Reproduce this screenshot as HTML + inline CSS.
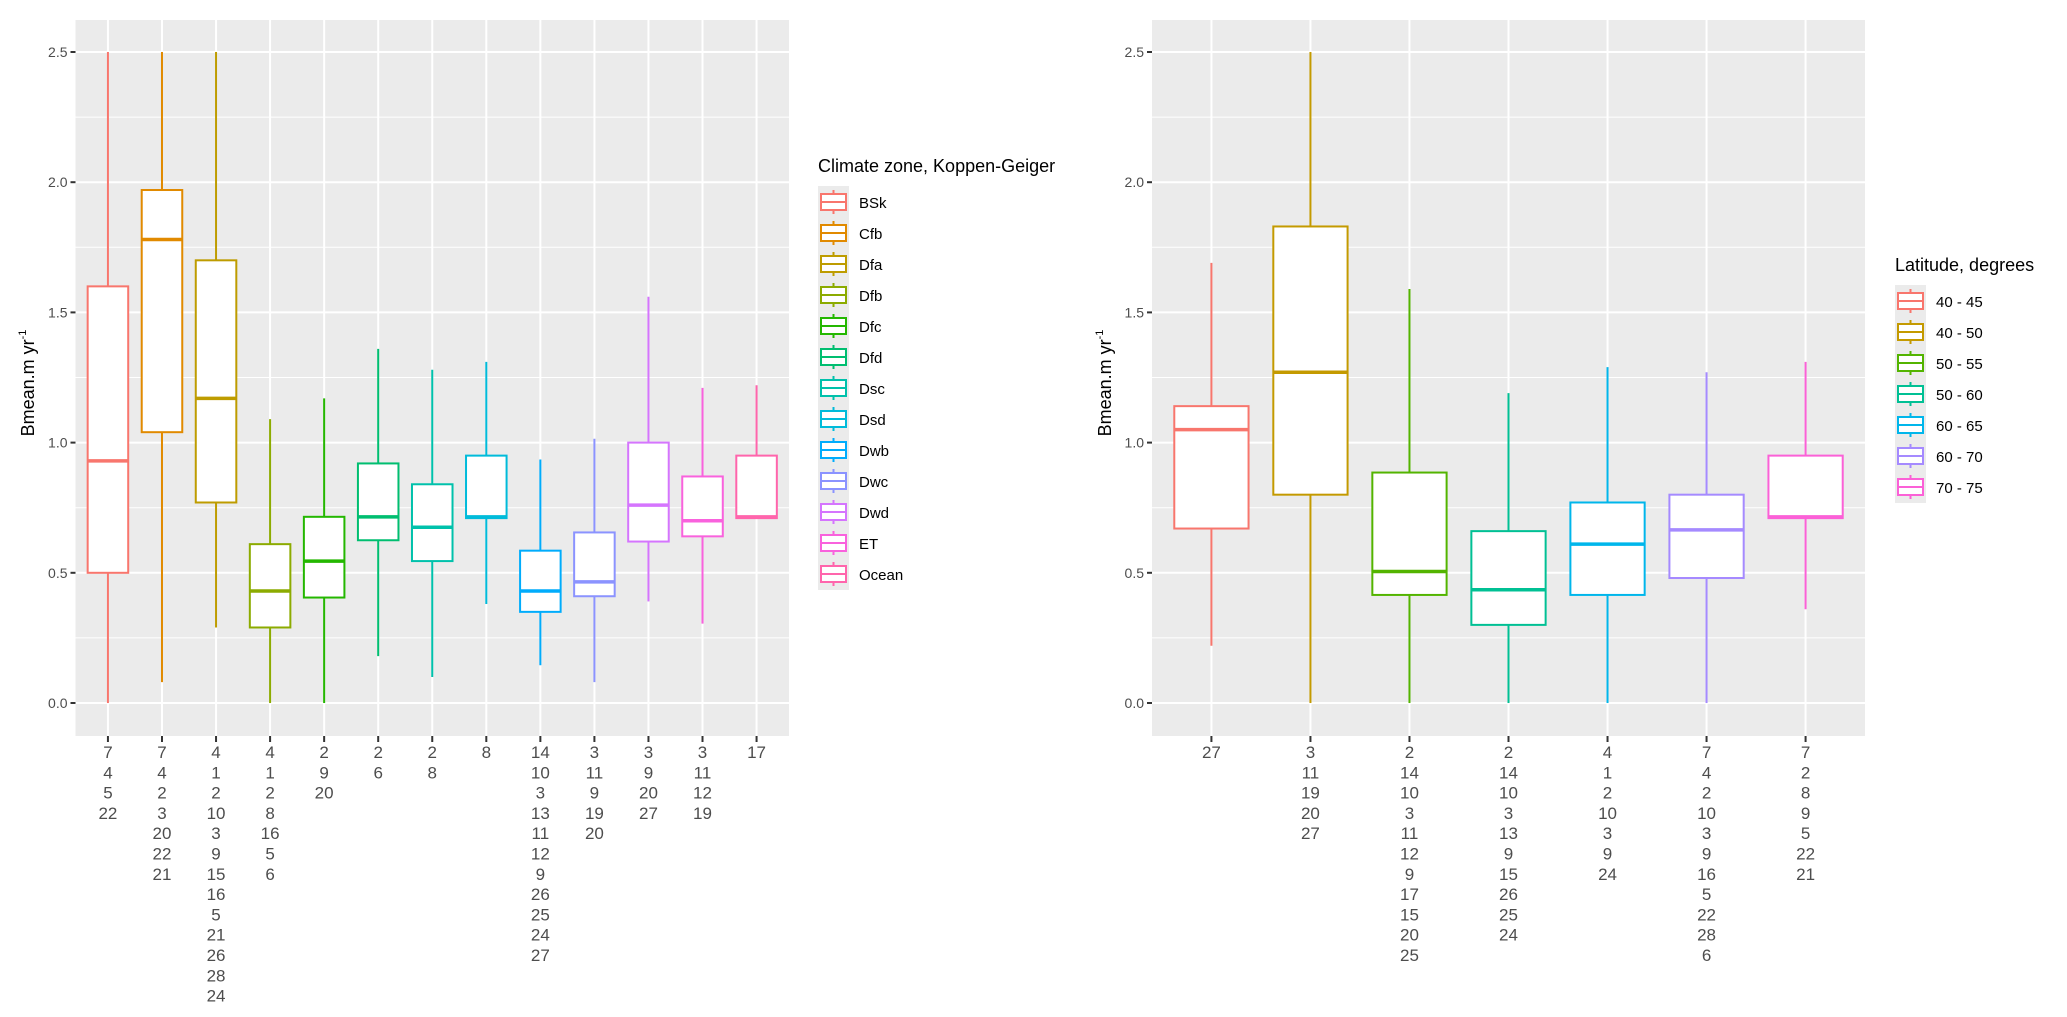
<!DOCTYPE html>
<html><head><meta charset="utf-8"><style>
body{margin:0;background:#fff;width:2067px;height:1012px;overflow:hidden}
text{font-family:"Liberation Sans",Arial,sans-serif}
</style></head><body>
<svg id="svg" width="2067" height="1012" xmlns="http://www.w3.org/2000/svg"></svg>
<script>
// Left chart data
const leftCats=["BSk","Cfb","Dfa","Dfb","Dfc","Dfd","Dsc","Dsd","Dwb","Dwc","Dwd","ET","Ocean"];
const leftLow=[0,0.08,0.29,0,0,0.18,0.10,0.38,0.145,0.08,0.39,0.305,0.71];
const leftQ1=[0.5,1.04,0.77,0.29,0.405,0.625,0.545,0.71,0.35,0.41,0.62,0.64,0.71];
const leftMed=[0.93,1.78,1.17,0.43,0.545,0.715,0.675,0.715,0.43,0.465,0.76,0.70,0.715];
const leftQ3=[1.6,1.97,1.70,0.61,0.715,0.92,0.84,0.95,0.585,0.655,1.0,0.87,0.95];
const leftHigh=[2.5,2.5,2.5,1.09,1.17,1.36,1.28,1.31,0.935,1.015,1.56,1.21,1.22];
const leftTicks=[["7","4","5","22"],["7","4","2","3","20","22","21"],["4","1","2","10","3","9","15","16","5","21","26","28","24"],["4","1","2","8","16","5","6"],["2","9","20"],["2","6"],["2","8"],["8"],["14","10","3","13","11","12","9","26","25","24","27"],["3","11","9","19","20"],["3","9","20","27"],["3","11","12","19"],["17"]];
const leftColors=["#F8766D","#E18A00","#BE9C00","#8CAB00","#24B700","#00BE70","#00C1AB","#00BBDA","#00ACFC","#8B93FF","#D575FE","#F962DD","#FF65AC"];
// Right chart data
const rightCats=["40 - 45","40 - 50","50 - 55","50 - 60","60 - 65","60 - 70","70 - 75"];
const rightLow=[0.22,0,0,0,0,0,0.36];
const rightQ1=[0.67,0.80,0.415,0.30,0.415,0.48,0.71];
const rightMed=[1.05,1.27,0.505,0.435,0.61,0.665,0.715];
const rightQ3=[1.14,1.83,0.885,0.66,0.77,0.80,0.95];
const rightHigh=[1.69,2.5,1.59,1.19,1.29,1.27,1.31];
const rightTicks=[["27"],["3","11","19","20","27"],["2","14","10","3","11","12","9","17","15","20","25"],["2","14","10","3","13","9","15","26","25","24"],["4","1","2","10","3","9","24"],["7","4","2","10","3","9","16","5","22","28","6"],["7","2","8","9","5","22","21"]];
const rightColors=["#F8766D","#C49A00","#53B400","#00C094","#00B6EB","#A58AFF","#FB61D7"];
const yTicks=[0,0.5,1.0,1.5,2.0,2.5];
const yTickLabels=["0.0","0.5","1.0","1.5","2.0","2.5"];

const svg=document.getElementById('svg');
const NS="http://www.w3.org/2000/svg";
function mk(tag,attrs,parent,txt){const e=document.createElementNS(NS,tag);for(const k in attrs)e.setAttribute(k,attrs[k]);if(txt!==undefined)e.textContent=txt;(parent||svg).appendChild(e);return e;}
const panelTop=20,panelBot=736;
function yScale(v){return 703-v*(703-52)/2.5;}

function panel(name,L,R,cats,low,q1,med,q3,high,ticks,colors,titleX,legX,legY,legTitle){
  const g=mk('g',{});
  
  
  const n=cats.length, step=(R-L)/(n+0.2), first=L+0.6*step;
  const xS=i=>first+i*step;
  mk('rect',{x:L,y:panelTop,width:R-L,height:panelBot-panelTop,fill:'#EBEBEB'},g);
  for(let i=0;i<yTicks.length-1;i++){const m=yScale((yTicks[i]+yTicks[i+1])/2);mk('line',{x1:L,x2:R,y1:m,y2:m,stroke:'#fff','stroke-width':1},g);}
  yTicks.forEach((t,i)=>{const y=yScale(t);
    mk('line',{x1:L,x2:R,y1:y,y2:y,stroke:'#fff','stroke-width':2},g);
    mk('line',{x1:L-5,x2:L,y1:y,y2:y,stroke:'#333','stroke-width':2},g);
    const tl=mk('text',{x:L-8,y:y+5,'text-anchor':'end','font-size':14,fill:'#4D4D4D'},g,yTickLabels[i]);
    
    
  });
  const bw=step*0.75;
  cats.forEach((c,i)=>{const x=xS(i);
    mk('line',{x1:x,x2:x,y1:panelTop,y2:panelBot,stroke:'#fff','stroke-width':2},g);
    mk('line',{x1:x,x2:x,y1:panelBot,y2:panelBot+6,stroke:'#333','stroke-width':2},g);
    const bg=mk('g',{},g);
    
    
    const col=colors[i];
    mk('line',{x1:x,x2:x,y1:yScale(high[i]),y2:yScale(q3[i]),stroke:col,'stroke-width':2},bg);
    mk('line',{x1:x,x2:x,y1:yScale(q1[i]),y2:yScale(low[i]),stroke:col,'stroke-width':2},bg);
    mk('rect',{x:x-bw/2,y:yScale(q3[i]),width:bw,height:yScale(q1[i])-yScale(q3[i]),fill:'#fff',stroke:col,'stroke-width':2},bg);
    mk('line',{x1:x-bw/2,x2:x+bw/2,y1:yScale(med[i]),y2:yScale(med[i]),stroke:col,'stroke-width':3.5},bg);
    const tx=mk('text',{x:x,'text-anchor':'middle','font-size':17,fill:'#4D4D4D'},g);
    
    
    ticks[i].forEach((s,j)=>mk('tspan',{x:x,y:758+j*20.3},tx,s));
  });
  const yt=mk('text',{transform:`translate(${titleX},383) rotate(-90)`,'text-anchor':'middle','font-size':18,fill:'#000'},g);
  
  
  mk('tspan',{},yt,'Bmean.m yr');
  mk('tspan',{'font-size':11,dy:-8},yt,'-1');
  const lg=mk('g',{},g);
  
  
  mk('text',{x:legX,y:legY,'font-size':18,fill:'#000'},lg,legTitle);
  const k0=legY+30;
  mk('rect',{x:legX,y:k0-16,width:31,height:31*n+1,fill:'#EBEBEB'},lg);
  cats.forEach((c,i)=>{const cy=k0+i*31,cx=legX+15.5,col=colors[i];
    const e=mk('g',{},lg);
    
    
    mk('line',{x1:cx,x2:cx,y1:cy-12,y2:cy+12,stroke:col,'stroke-width':2},e);
    mk('rect',{x:legX+3,y:cy-8,width:25,height:16,fill:'#fff',stroke:col,'stroke-width':2},e);
    mk('line',{x1:legX+3,x2:legX+28,y1:cy,y2:cy,stroke:col,'stroke-width':2},e);
    mk('text',{x:legX+41,y:cy+6,'font-size':15,fill:'#000'},e,c);
  });
}
panel('left',75.5,789,leftCats,leftLow,leftQ1,leftMed,leftQ3,leftHigh,leftTicks,leftColors,34,818,172,'Climate zone, Koppen-Geiger');
panel('right',1152,1865,rightCats,rightLow,rightQ1,rightMed,rightQ3,rightHigh,rightTicks,rightColors,1111,1895,271,'Latitude, degrees');
</script>
</body></html>
